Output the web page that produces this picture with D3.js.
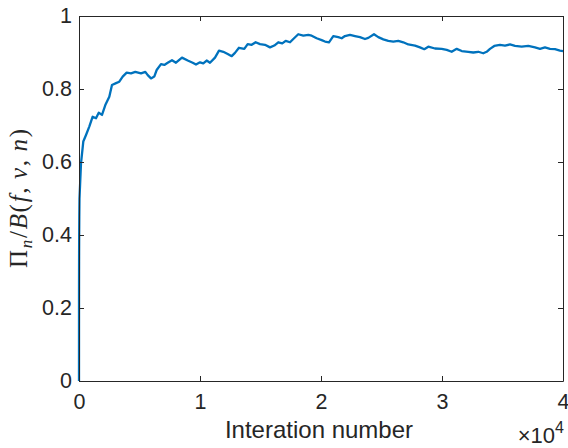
<!DOCTYPE html>
<html>
<head>
<meta charset="utf-8">
<script src="https://cdn.jsdelivr.net/npm/d3@7"></script>
<style>
  body { margin: 0; background: #fff; }
  .axis path, .axis line { stroke: #262626; }
  .axis text { fill: #262626; font-family: "Liberation Sans", Arial, sans-serif; font-size: 21.5px; }
</style>
</head>
<body>
<script>
// iteration number and normalised value
var iterations = [0, 1, 2, 3, 4, 5, 6, 7, 8, 9, 15, 25, 40, 165, 355, 580, 850, 1130, 1405, 1630, 1900,
    2175, 2505, 2725, 3060, 3330, 3610, 3940, 4300, 4650, 5125, 5480, 5680, 5950, 6220, 6420,
    6775, 7050, 7330, 7685, 8015, 8510, 8985, 9395, 9670, 10000, 10270, 10550, 10825, 11240,
    11570, 11925, 12290, 12620, 12890, 13220, 13660, 13940, 14270, 14600, 14960, 15370, 15785,
    16140, 16470, 16800, 17080, 17440, 17710, 18120, 18540, 18950, 19230, 19640, 20055, 20330,
    20660, 21015, 21430, 21710, 21980, 22395, 22810, 23220, 23635, 23910, 24380, 24735, 25150,
    25560, 25975, 26390, 26800, 27215, 27770, 28180, 28535, 28870, 29420, 29975, 30390, 30800,
    31215, 31630, 32170, 32585, 33000, 33410, 33690, 33965, 34320, 34790, 35205, 35620, 36035,
    36585, 37130, 37685, 38100, 38510, 38925, 39340, 39750, 40000];
var ratio = [0, 0.135, 0.231, 0.258, 0.281, 0.300, 0.313, 0.327, 0.341, 0.350, 0.40, 0.45, 0.50,
    0.596, 0.656, 0.674, 0.697, 0.724, 0.720, 0.735, 0.729,
    0.756, 0.779, 0.811, 0.816, 0.820, 0.834, 0.845, 0.843, 0.847, 0.843, 0.847, 0.838, 0.829, 0.834, 0.852,
    0.868, 0.866, 0.872, 0.879, 0.872, 0.886, 0.878, 0.872, 0.867, 0.873, 0.870, 0.878, 0.872, 0.886,
    0.905, 0.902, 0.896, 0.890, 0.899, 0.913, 0.910, 0.923, 0.921, 0.928, 0.923, 0.921, 0.914,
    0.919, 0.928, 0.925, 0.932, 0.928, 0.937, 0.950, 0.946, 0.948, 0.946, 0.939, 0.934, 0.930,
    0.928, 0.945, 0.942, 0.939, 0.945, 0.948, 0.945, 0.942, 0.937, 0.940, 0.950, 0.942, 0.936,
    0.932, 0.930, 0.932, 0.928, 0.922, 0.919, 0.914, 0.909, 0.916, 0.911, 0.910, 0.907, 0.902,
    0.910, 0.904, 0.902, 0.900, 0.902, 0.898, 0.902, 0.910, 0.918, 0.921, 0.919, 0.922, 0.918,
    0.916, 0.918, 0.914, 0.910, 0.914, 0.910, 0.909, 0.905, 0.904];

var xTicks = [0, 10000, 20000, 30000, 40000];
var xTickLabels = ["0", "1", "2", "3", "4"];
var yTicks = [0, 0.2, 0.4, 0.6, 0.8, 1];
var yTickLabels = ["0", "0.2", "0.4", "0.6", "0.8", "1"];

var margin = { top: 16, right: 5, bottom: 67, left: 79 };
var width = 568 - margin.left - margin.right,
    height = 448 - margin.top - margin.bottom;

var xScale = d3.scaleLinear().domain([0, 40000]).range([0, width]);
var yScale = d3.scaleLinear().domain([0, 1]).range([height, 0]);

var dataset = iterations.map(function (n, i) { return { x: n, y: ratio[i] }; });

var svg = d3.select("body").append("svg")
    .attr("width", 568)
    .attr("height", 448)
    .append("g")
    .attr("transform", "translate(" + margin.left + "," + margin.top + ")");

// data line
var line = d3.line()
    .x(function (d) { return xScale(d.x); })
    .y(function (d) { return yScale(d.y); });

svg.append("path")
    .datum(dataset)
    .attr("fill", "none")
    .attr("stroke", "#0072BD")
    .attr("stroke-width", 2.3)
    .attr("stroke-linejoin", "round")
    .attr("d", line);

// axes, ticks pointing inward (box on)
svg.append("g")
    .attr("class", "axis")
    .attr("transform", "translate(0," + height + ")")
    .call(d3.axisBottom(xScale).tickValues(xTicks)
        .tickFormat(function (d, i) { return xTickLabels[i]; })
        .tickSizeInner(-5).tickSizeOuter(0).tickPadding(13));

svg.append("g")
    .attr("class", "axis")
    .call(d3.axisLeft(yScale).tickValues(yTicks)
        .tickFormat(function (d, i) { return yTickLabels[i]; })
        .tickSizeInner(-5).tickSizeOuter(0).tickPadding(7));

svg.append("g")
    .attr("class", "axis")
    .call(d3.axisTop(xScale).tickValues(xTicks).tickFormat("")
        .tickSizeInner(-5).tickSizeOuter(0));

svg.append("g")
    .attr("class", "axis")
    .attr("transform", "translate(" + width + ",0)")
    .call(d3.axisRight(yScale).tickValues(yTicks).tickFormat("")
        .tickSizeInner(-5).tickSizeOuter(0));

svg.selectAll(".axis").attr("font-size", null).attr("font-family", null);

// x label
svg.append("text")
    .attr("x", width / 2 - 2)
    .attr("y", height + 57)
    .attr("text-anchor", "middle")
    .style("font-family", "'Liberation Sans', Arial, sans-serif")
    .style("font-size", "24px")
    .style("fill", "#262626")
    .text("Interation number");

// exponent
var expo = svg.append("text")
    .attr("x", width + 1)
    .attr("y", height + 62)
    .attr("text-anchor", "end")
    .style("font-family", "'Liberation Sans', Arial, sans-serif")
    .style("font-size", "22px")
    .style("fill", "#262626");
expo.append("tspan").text("\u00d710");
expo.append("tspan").attr("dy", -10).style("font-size", "16px").text("4");

// y label (TeX-like)
var ylab = svg.append("text")
    .attr("transform", "translate(" + (27 - margin.left) + "," + (height / 2) + ") rotate(-90)")
    .attr("text-anchor", "middle")
    .style("font-family", "'Liberation Serif', 'DejaVu Serif', serif")
    .style("font-size", "25px")
    .style("fill", "#262626");
var parts = [
    ["\u03A0", "normal", 0, null],
    ["n", "italic", 5, "17px"],
    ["/", "normal", -5, null],
    ["B", "italic", 0, null],
    ["(", "normal", 0, null],
    ["f", "italic", 0, null],
    [",\u2009", "normal", 0, null],
    ["\u03BD", "italic", 0, null],
    [",\u2009", "normal", 0, null],
    ["n", "italic", 0, null],
    [")", "normal", 0, null]
];
parts.forEach(function (p) {
    var t = ylab.append("tspan").style("font-style", p[1]).text(p[0]);
    if (p[2]) t.attr("dy", p[2]);
    if (p[3]) t.style("font-size", p[3]);
});
ylab.attr("textLength", 139).attr("lengthAdjust", "spacing");
</script>
</body>
</html>
